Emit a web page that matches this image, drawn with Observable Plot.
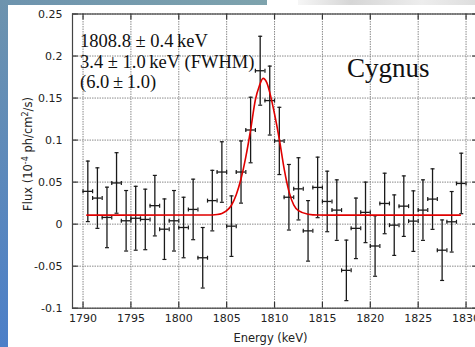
<!DOCTYPE html>
<html>
<head>
<meta charset="utf-8">
<script src="https://cdn.jsdelivr.net/npm/d3@7"></script>
<script src="https://cdn.jsdelivr.net/npm/@observablehq/plot@0.6"></script>
<style>
  html, body { margin: 0; padding: 0; background: #fff; overflow: hidden; }
  #page { position: relative; width: 475px; height: 347px; overflow: hidden; background: #fff; }
  #chart { position: absolute; left: 0; top: 0; width: 480px; }
  #edge { position: absolute; left: 0; top: 0; width: 8px; height: 347px; background: linear-gradient(#6d93ae, #4c7fc8); }
  #band { position: absolute; left: 0; top: 0; width: 267px; height: 5px; background: linear-gradient(90deg, #6d93ae, #7ea3ad); }
  #photo { position: absolute; left: 298px; top: 0; width: 177px; height: 5px; background: linear-gradient(90deg, #f6f6f6, #d6d6d6 30%, #ededed 70%, #dedede); }
</style>
</head>
<body>
<div id="page">
  <div id="chart"></div>
  <div id="edge"></div>
  <div id="band"></div>
  <div id="photo"></div>
</div>
<script>
// 1 keV spectral bins around the 26Al line (bin centres, keV)
const energy = [
  1790.5, 1791.5, 1792.5, 1793.5, 1794.5, 1795.5, 1796.5, 1797.5, 1798.5, 1799.5,
  1800.5, 1801.5, 1802.5, 1803.5, 1804.5, 1805.5, 1806.5, 1807.5, 1808.5, 1809.5,
  1810.5, 1811.5, 1812.5, 1813.5, 1814.5, 1815.5, 1816.5, 1817.5, 1818.5, 1819.5,
  1820.5, 1821.5, 1822.5, 1823.5, 1824.5, 1825.5, 1826.5, 1827.5, 1828.5, 1829.5
];
// Measured flux per bin (10^-4 ph/cm^2/s)
const flux = [
  0.039, 0.031, 0.008, 0.049, 0.004, 0.007, 0.0056, 0.022, -0.006, 0.004,
  -0.004, 0.0175, -0.040, 0.028, 0.062, -0.0024, 0.062, 0.112, 0.1825, 0.147,
  0.099, 0.032, 0.042, -0.008, 0.0437, 0.027, 0.0167, -0.055, -0.005, 0.014,
  -0.026, 0.0246, -0.0012, 0.0214, 0.0036, 0.0167, 0.0298, -0.031, 0.0028, 0.0484
];
// 1-sigma flux uncertainty per bin
const fluxErr = [
  0.036, 0.036, 0.036, 0.036, 0.036, 0.038, 0.036, 0.036, 0.036, 0.036,
  0.036, 0.036, 0.036, 0.036, 0.036, 0.036, 0.037, 0.039, 0.041, 0.041,
  0.040, 0.039, 0.037, 0.036, 0.036, 0.036, 0.036, 0.036, 0.036, 0.036,
  0.036, 0.036, 0.036, 0.036, 0.036, 0.036, 0.036, 0.036, 0.036, 0.036
];
const binHalfWidth = 0.5;

// Fitted line profile (Gaussian on flat continuum), sampled
const fitEnergy = [
  1790.4, 1803.0, 1804.0, 1804.5, 1805.0, 1805.5, 1806.0, 1806.5, 1807.0, 1807.5,
  1808.0, 1808.4, 1808.8, 1809.2, 1809.6, 1810.0, 1810.5, 1811.0, 1811.5, 1812.0,
  1812.5, 1813.5, 1814.5, 1829.4
];
const fitFlux = [
  0.0107, 0.0108, 0.0115, 0.0128, 0.0160, 0.0225, 0.035, 0.054, 0.080, 0.112,
  0.148, 0.164, 0.1734, 0.168, 0.152, 0.131, 0.101, 0.066, 0.039, 0.023,
  0.0160, 0.0118, 0.0108, 0.0107
];

const xTicks = [1790, 1795, 1800, 1805, 1810, 1815, 1820, 1825, 1830];
const xTickLabels = ["1790", "1795", "1800", "1805", "1810", "1815", "1820", "1825", "1830"];
const yTicks = [-0.1, -0.05, 0, 0.05, 0.1, 0.15, 0.2, 0.25];
const yTickLabels = ["-0.1", "-0.05", "0", "0.05", "0.1", "0.15", "0.2", "0.25"];

const fitLines = ["1808.8 \u00b1 0.4\u2009keV", "3.4 \u00b1 1.0\u2009keV (FWHM)", "(6.0\u2009\u00b1\u20091.0)"];
const regionName = "Cygnus";

const xDomain = [1788.9, 1831.3];
const yDomain = [-0.1, 0.25];

const points = energy.map((e, i) => ({e, f: flux[i], err: fluxErr[i]}));
const fit = fitEnergy.map((e, i) => ({e, f: fitFlux[i]}));

// Small line symbols for error-bar end caps
const hCap = {draw(ctx, size) { const r = Math.sqrt(size / Math.PI); ctx.moveTo(-r, 0); ctx.lineTo(r, 0); }};
const vCap = {draw(ctx, size) { const r = Math.sqrt(size / Math.PI); ctx.moveTo(0, -r); ctx.lineTo(0, r); }};

const ink = "#1a1a1a";
const gridStyle = {stroke: "#8a8a8a", strokeOpacity: 1, strokeWidth: 1, strokeDasharray: "1.5,1"};
const tickStyle = {stroke: "#333", strokeWidth: 1.2};
const xIn = 0.6, yIn = 0.007;

const svg = Plot.plot({
  width: 480,
  height: 347,
  marginLeft: 72,
  marginRight: 2,
  marginTop: 13.5,
  marginBottom: 39.3,
  x: {domain: xDomain},
  y: {domain: yDomain},
  style: {fontFamily: "DejaVu Sans", fontSize: "11px", color: "#222", background: "white", maxWidth: "none"},
  marks: [
    Plot.gridX(xTicks, gridStyle),
    Plot.gridY(yTicks, gridStyle),
    Plot.ruleY(yTicks, {y: d => d, x1: xDomain[0], x2: xDomain[0] + xIn, ...tickStyle}),
    Plot.ruleY(yTicks, {y: d => d, x1: xDomain[1] - xIn, x2: xDomain[1], ...tickStyle}),
    Plot.ruleX(xTicks, {x: d => d, y1: yDomain[0], y2: yDomain[0] + yIn, ...tickStyle}),
    Plot.ruleX(xTicks, {x: d => d, y1: yDomain[1] - yIn, y2: yDomain[1], ...tickStyle}),
    Plot.frame({stroke: "#444", strokeWidth: 1.2}),
    Plot.axisX({ticks: xTicks, tickSize: 0, tickPadding: 6, tickFormat: d => xTickLabels[xTicks.indexOf(d)], label: null}),
    Plot.axisY({ticks: yTicks, tickSize: 0, tickPadding: 10, tickFormat: d => yTickLabels[yTicks.indexOf(d)], label: null}),
    // error bars
    Plot.ruleX(points, {x: "e", y1: d => d.f - d.err, y2: d => d.f + d.err, stroke: ink, strokeWidth: 1.3}),
    Plot.ruleY(points, {y: "f", x1: d => d.e - binHalfWidth, x2: d => d.e + binHalfWidth, stroke: ink, strokeWidth: 1.3}),
    Plot.dot(points, {x: "e", y: d => d.f + d.err, symbol: hCap, r: 2, stroke: ink, fill: "none", strokeWidth: 1.2}),
    Plot.dot(points, {x: "e", y: d => d.f - d.err, symbol: hCap, r: 2, stroke: ink, fill: "none", strokeWidth: 1.2}),
    Plot.dot(points, {x: d => d.e - binHalfWidth, y: "f", symbol: vCap, r: 2, stroke: ink, fill: "none", strokeWidth: 1.2}),
    Plot.dot(points, {x: d => d.e + binHalfWidth, y: "f", symbol: vCap, r: 2, stroke: ink, fill: "none", strokeWidth: 1.2}),
    // fitted model
    Plot.line(fit, {x: "e", y: "f", stroke: "#e00000", strokeWidth: 1.6, curve: "monotone-x"})
  ]
});

const s = d3.select(svg);

// axis titles
s.append("text")
  .attr("x", 270.5).attr("y", 341.5)
  .attr("text-anchor", "middle")
  .attr("font-family", "DejaVu Sans").attr("font-size", 11.5).attr("fill", "#222")
  .text("Energy (keV)");

const yl = s.append("text")
  .attr("transform", "translate(32,154) rotate(-90)")
  .attr("text-anchor", "middle")
  .attr("font-family", "DejaVu Sans").attr("font-size", 11.5).attr("fill", "#222");
yl.append("tspan").text("Flux (10");
yl.append("tspan").attr("dy", -4.5).attr("font-size", 8).text("-4");
yl.append("tspan").attr("dy", 4.5).text(" ph/cm");
yl.append("tspan").attr("dy", -4.5).attr("font-size", 8).text("2");
yl.append("tspan").attr("dy", 4.5).text("/s)");

// fit results and region name
const fitText = s.append("g")
  .attr("text-anchor", "start")
  .attr("font-family", "Liberation Serif, Times New Roman, serif")
  .attr("font-size", 18.5).attr("fill", "#111");
fitLines.forEach((t, i) => {
  fitText.append("text").attr("x", 80).attr("y", 47 + i * 20.5).text(t);
});
s.append("text")
  .attr("x", 347).attr("y", 77)
  .attr("text-anchor", "start")
  .attr("font-family", "Liberation Serif, Times New Roman, serif")
  .attr("font-size", 27).attr("fill", "#111")
  .text(regionName);

document.getElementById("chart").append(svg);
</script>
</body>
</html>
